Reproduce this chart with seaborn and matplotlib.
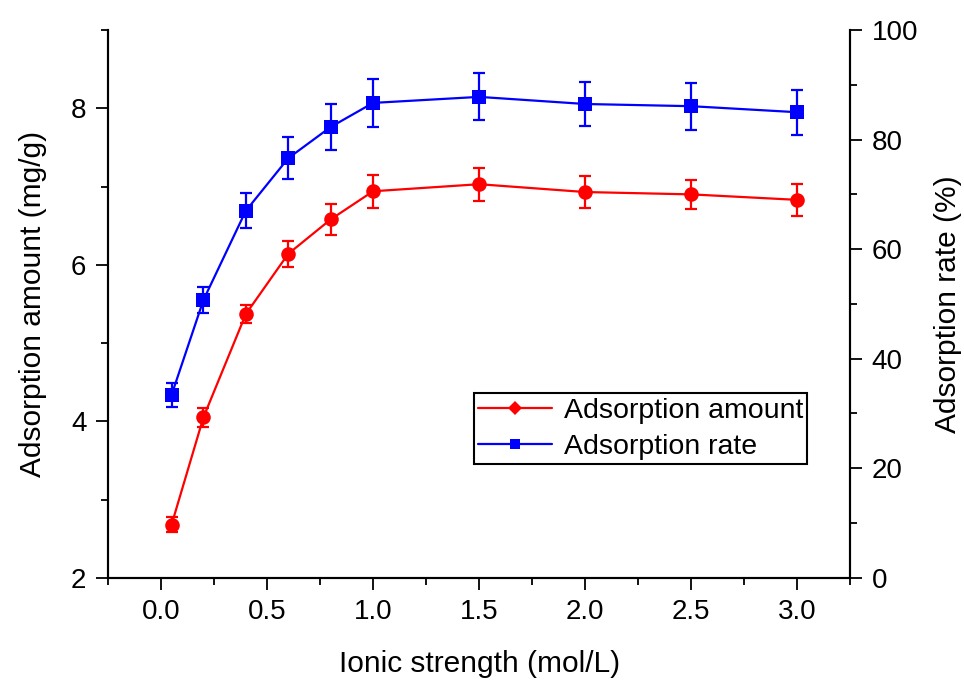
import numpy as np
import pandas as pd
import matplotlib
matplotlib.use("Agg")
import matplotlib.pyplot as plt
from matplotlib.lines import Line2D
from matplotlib.ticker import MultipleLocator
import seaborn as sns

# Ionic strength series (mol/L)
ionic_strength = [0.05, 0.2, 0.4, 0.6, 0.8, 1.0, 1.5, 2.0, 2.5, 3.0]
# Adsorption amount (mg/g) and its error
amount = [2.68, 4.05, 5.37, 6.14, 6.58, 6.94, 7.03, 6.93, 6.90, 6.83]
amount_err = [0.10, 0.12, 0.12, 0.17, 0.20, 0.21, 0.21, 0.21, 0.19, 0.20]
# Adsorption rate (%) and its error
rate = [33.4, 50.7, 67.0, 76.6, 82.3, 86.7, 87.8, 86.5, 86.1, 85.0]
rate_err = [2.2, 2.4, 3.2, 3.8, 4.2, 4.4, 4.3, 4.1, 4.3, 4.1]

x_ticks = [0.0, 0.5, 1.0, 1.5, 2.0, 2.5, 3.0]

df = pd.DataFrame({"x": ionic_strength, "amount": amount, "amount_err": amount_err,
                   "rate": rate, "rate_err": rate_err})

sns.set_theme(style="ticks")
plt.rcParams["font.family"] = ["Liberation Sans", "DejaVu Sans"]
plt.rcParams["text.color"] = "black"
plt.rcParams["axes.labelcolor"] = "black"
plt.rcParams["xtick.color"] = "black"
plt.rcParams["ytick.color"] = "black"

RED = "#ff0000"
BLUE = "#0000ff"
TICK_FS = 20
LABEL_FS = 21.5

fig = plt.figure(figsize=(9.64, 6.83), dpi=100)
ax = fig.add_axes([0.112, 0.154, 0.770, 0.802])
ax2 = ax.twinx()

# Adsorption amount on the left axis
sns.lineplot(data=df, x="x", y="amount", ax=ax, color=RED, marker="o",
             markersize=10.5, markeredgewidth=0, linewidth=1.6, legend=False)
ax.errorbar(df["x"], df["amount"], yerr=df["amount_err"], fmt="none",
            ecolor=RED, elinewidth=1.6, capsize=4.5, capthick=1.6)

# Adsorption rate on the right axis
sns.lineplot(data=df, x="x", y="rate", ax=ax2, color=BLUE, marker="s",
             markersize=10, markeredgewidth=0, linewidth=1.6, legend=False)
ax2.errorbar(df["x"], df["rate"], yerr=df["rate_err"], fmt="none",
             ecolor=BLUE, elinewidth=1.6, capsize=4.5, capthick=1.6)

ax.set_xlim(-0.25, 3.25)
ax.set_ylim(2, 9)
ax2.set_ylim(0, 100)

ax.set_xticks(x_ticks)
ax.set_xticklabels([f"{t:.1f}" for t in x_ticks])
ax.xaxis.set_minor_locator(MultipleLocator(0.25))
ax.set_yticks([2, 4, 6, 8])
ax.yaxis.set_minor_locator(MultipleLocator(1))
ax2.set_yticks([0, 20, 40, 60, 80, 100])
ax2.yaxis.set_minor_locator(MultipleLocator(10))

ax.set_xlabel("Ionic strength (mol/L)", fontsize=LABEL_FS, labelpad=18, color="black")
ax.set_ylabel("Adsorption amount (mg/g)", fontsize=LABEL_FS, labelpad=17, color="black")
ax2.set_ylabel("Adsorption rate (%)", fontsize=LABEL_FS, labelpad=11, color="black")

for a in (ax, ax2):
    a.tick_params(which="major", direction="out", length=8.5, width=1.3,
                  labelsize=TICK_FS, color="black", labelcolor="black", pad=7)
    a.tick_params(which="minor", direction="out", length=5, width=1.3, color="black")
    for s in a.spines.values():
        s.set_linewidth(1.5)
        s.set_color("black")
    a.spines["top"].set_visible(False)
    a.grid(False)

ax.tick_params(axis="y", which="both", left=True, right=False)
ax2.tick_params(axis="y", which="both", right=True, left=False)
ax2.tick_params(axis="x", which="both", bottom=False, labelbottom=False)

handles = [
    Line2D([0], [0], color=RED, marker="D", markersize=7, markeredgewidth=0, linewidth=1.6),
    Line2D([0], [0], color=BLUE, marker="s", markersize=7, markeredgewidth=0, linewidth=1.6),
]
leg = ax2.legend(handles, ["Adsorption amount", "Adsorption rate"],
                 loc="lower left", bbox_to_anchor=(0.493, 0.208),
                 fontsize=20.5, frameon=True, fancybox=False, framealpha=1,
                 edgecolor="black", handlelength=2.6, handletextpad=0.4,
                 borderpad=0.15, labelspacing=0.35, borderaxespad=0)
leg.get_frame().set_linewidth(1.5)
for t in leg.get_texts():
    t.set_color("black")

fig.savefig("out.png", dpi=100)
